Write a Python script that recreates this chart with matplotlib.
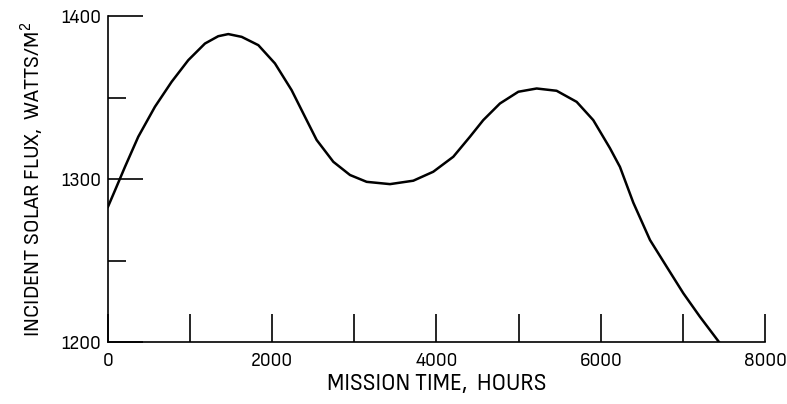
import matplotlib
matplotlib.use("Agg")
import matplotlib.pyplot as plt

FONT = 'Sofia Sans Semi Condensed'
plt.rcParams['font.family'] = [FONT, 'DejaVu Sans']
plt.rcParams['mathtext.fontset'] = 'custom'
plt.rcParams['mathtext.rm'] = FONT

# mission time (hours) and incident solar flux (W/m^2)
hours = [0, 85, 207, 369, 572, 775, 978, 1181, 1343, 1465, 1628, 1831, 2033,
         2236, 2399, 2541, 2744, 2947, 3150, 3434, 3718, 3961, 4205, 4408, 4570,
         4773, 4997, 5220, 5463, 5707, 5909, 6112, 6234, 6397, 6600, 6803, 7006,
         7208, 7440]
flux = [1283, 1293, 1307.5, 1326, 1344.4, 1359.7, 1373, 1383.2, 1387.7, 1389,
        1387.3, 1382.2, 1371, 1354.6, 1338.2, 1324, 1310.6, 1302.5, 1298.3, 1296.9,
        1299, 1304.5, 1313.7, 1326, 1336.2, 1346.4, 1353.6, 1355.6, 1354.2, 1347.4,
        1336.2, 1319, 1307.5, 1285.5, 1262.6, 1246.2, 1229.9, 1215.5, 1200]

x_ticks = [0, 2000, 4000, 6000, 8000]
x_minor = [1000, 3000, 5000, 7000]
y_ticks = [1200, 1300, 1400]
y_minor = [1250, 1350]

fig = plt.figure(figsize=(7.87, 4.04), dpi=100)
ax = fig.add_axes([0.1372, 0.1535, 0.8348, 0.8065])

ax.plot(hours, flux, color='black', linewidth=1.8, solid_joinstyle='round')

ax.set_xlim(0, 8000)
ax.set_ylim(1200, 1400)
ax.spines['top'].set_visible(False)
ax.spines['right'].set_visible(False)
for s in ('left', 'bottom'):
    ax.spines[s].set_linewidth(1.2)

ax.set_xticks(x_ticks)
ax.set_xticks(x_minor, minor=True)
ax.set_yticks(y_ticks)
ax.set_yticks(y_minor, minor=True)
ax.tick_params(axis='x', which='both', direction='in', length=20, width=1.2,
               labelsize=14, pad=7)
ax.tick_params(axis='y', which='major', direction='in', length=25, width=1.2,
               labelsize=14, pad=5)
ax.tick_params(axis='y', which='minor', direction='in', length=13, width=1.2)

ax.set_xlabel('MISSION TIME,  HOURS', fontsize=17, labelpad=3)
ax.set_ylabel('INCIDENT SOLAR FLUX,  WATTS/M$^2$', fontsize=16, labelpad=11)

fig.savefig('out.png', dpi=100)
plt.close(fig)
